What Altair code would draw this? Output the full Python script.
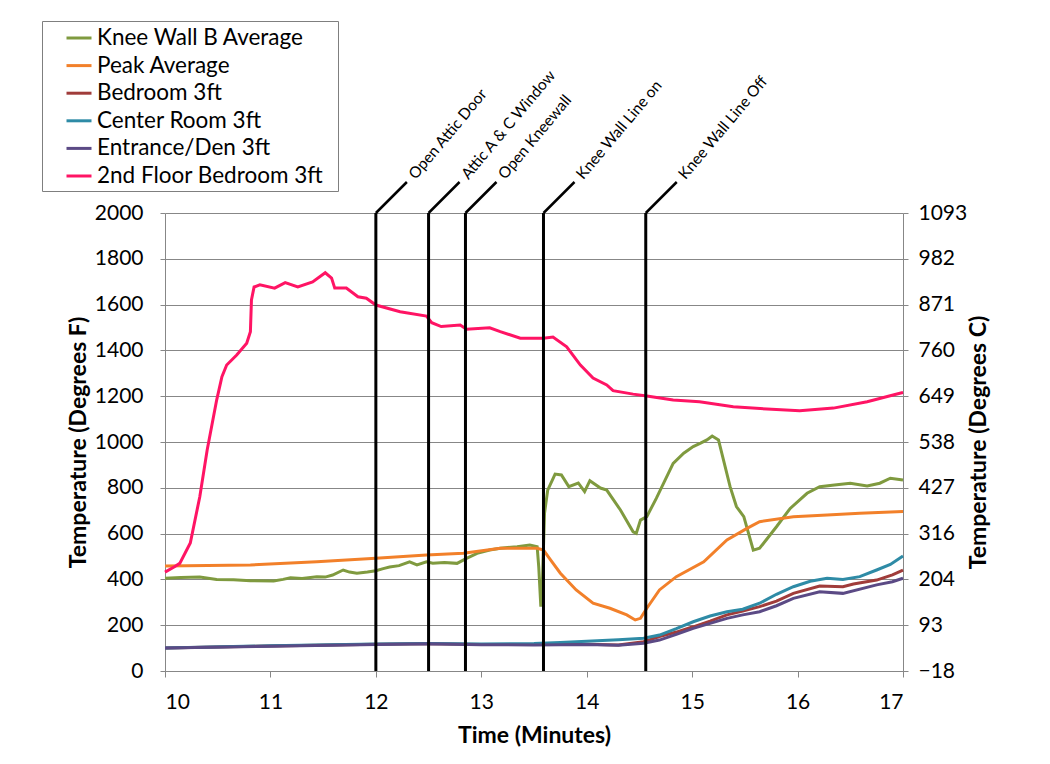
import altair as alt
import pandas as pd

# ---------------- data ----------------
series_names = ["Knee Wall B Average", "Peak Average", "Bedroom 3ft",
                "Center Room 3ft", "Entrance/Den 3ft", "2nd Floor Bedroom 3ft"]
series_colors = ["#7F9A3F", "#F2802A", "#A03C3A", "#2E8BA6", "#5B4A85", "#FF1464"]

knee_t = [10.0, 10.15, 10.33, 10.49, 10.65, 10.81, 11.03, 11.12, 11.19, 11.30, 11.44, 11.52,
          11.59, 11.69, 11.75, 11.82, 11.92, 12.0, 12.07, 12.13, 12.22, 12.32, 12.39, 12.48,
          12.54, 12.65, 12.77, 12.86, 12.96, 13.08, 13.18, 13.34, 13.46, 13.53, 13.545,
          13.565, 13.58, 13.60, 13.63, 13.70, 13.76, 13.83, 13.92, 13.98, 14.03, 14.13, 14.19,
          14.32, 14.44, 14.47, 14.51, 14.57, 14.66, 14.82, 14.92, 15.01, 15.08, 15.14, 15.19,
          15.25, 15.36, 15.42, 15.49, 15.58, 15.64, 15.80, 15.93, 16.09, 16.21, 16.35, 16.50,
          16.66, 16.78, 16.88, 17.0]
knee_f = [405, 408, 410, 400, 398, 394, 393, 400, 407, 404, 412, 410,
          419, 441, 432, 427, 432, 438, 447, 454, 460, 477, 463, 477,
          471, 474, 470, 492, 514, 528, 536, 543, 550, 543, 455,
          281, 397, 690, 790, 860, 856, 805, 821, 783, 831, 799, 790,
          703, 608, 601, 659, 674, 754, 907, 951, 980, 995, 1009, 1026,
          1009, 805, 718, 674, 528, 536, 630, 710, 776, 805, 812, 820,
          808, 820, 842, 834]

peak_t = [10.0, 10.81, 11.44, 12.0, 12.48, 12.83, 13.18, 13.53, 13.59, 13.65, 13.75, 13.90,
          14.06, 14.22, 14.38, 14.46, 14.51, 14.57, 14.69, 14.85, 15.11, 15.33, 15.52, 15.64,
          15.96, 16.28, 16.59, 17.0]
peak_f = [459, 463, 477, 492, 507, 514, 536, 536, 528, 490, 427, 354,
          296, 274, 245, 223, 230, 274, 354, 412, 477, 572, 623, 652,
          674, 681, 689, 696]

bed_t = [10.0, 11.0, 12.0, 12.5, 13.0, 13.5, 14.0, 14.3, 14.54, 14.69, 14.85, 15.01,
         15.17, 15.33, 15.48, 15.64, 15.80, 15.96, 16.21, 16.43, 16.53, 16.75, 16.9, 17.0]
bed_f = [100, 109, 117, 119, 116, 116, 117, 114, 128, 150, 170, 193,
         218, 245, 262, 281, 305, 339, 371, 368, 380, 397, 420, 441]

center_t = [10.0, 11.0, 12.0, 12.5, 13.0, 13.5, 13.75, 14.0, 14.3, 14.54, 14.69, 14.85,
            15.01, 15.17, 15.33, 15.48, 15.64, 15.80, 15.96, 16.12, 16.28, 16.43, 16.59,
            16.75, 16.88, 17.0]
center_f = [100, 110, 118, 120, 118, 120, 124, 130, 136, 143, 157, 185,
            215, 240, 259, 270, 296, 335, 368, 392, 405, 400, 412,
            441, 465, 502]

den_t = [10.0, 11.0, 12.0, 12.5, 13.0, 13.5, 14.0, 14.3, 14.54, 14.69, 14.85, 15.01,
         15.17, 15.33, 15.48, 15.64, 15.80, 15.96, 16.21, 16.43, 16.75, 16.9, 17.0]
den_f = [100, 108, 116, 119, 115, 114, 116, 112, 121, 135, 160, 186,
         208, 230, 245, 259, 285, 317, 346, 339, 376, 390, 405]

bed2_t = [10.0, 10.09, 10.14, 10.24, 10.33, 10.40, 10.49, 10.54, 10.585, 10.68, 10.775, 10.81,
          10.82, 10.845, 10.90, 11.04, 11.14, 11.26, 11.40, 11.52, 11.58, 11.61, 11.72, 11.83,
          11.91, 12.0, 12.23, 12.48, 12.53, 12.62, 12.80, 12.86, 13.08, 13.18, 13.37, 13.59,
          13.68, 13.81, 13.94, 14.06, 14.19, 14.25, 14.44, 14.57, 14.82, 15.07, 15.39, 15.71,
          16.02, 16.34, 16.66, 16.97, 17.0]
bed2_f = [432, 455, 470, 559, 761, 965, 1183, 1285, 1336, 1380, 1431, 1482,
          1620, 1677, 1686, 1672, 1696, 1677, 1699, 1739, 1716, 1672, 1672, 1634,
          1628, 1598, 1569, 1550, 1521, 1504, 1511, 1492, 1499, 1482, 1453, 1453,
          1458, 1416, 1336, 1279, 1249, 1224, 1209, 1201, 1183, 1176, 1154, 1144,
          1137, 1148, 1176, 1213, 1216]

event_times = [12.0, 12.5, 12.85, 13.59, 14.56]
event_labels = ["Open Attic Door", "Attic A & C Window", "Open Kneewall",
                "Knee Wall Line on", "Knee Wall Line Off"]

f_ticks = list(range(0, 2001, 200))
x_ticks = list(range(10, 18))

# ---------------- tables ----------------
rows = []
for name, ts, fs in zip(series_names,
                        [knee_t, peak_t, bed_t, center_t, den_t, bed2_t],
                        [knee_f, peak_f, bed_f, center_f, den_f, bed2_f]):
    for t, f in zip(ts, fs):
        rows.append({"t": t, "F": f, "series": name})
df = pd.DataFrame(rows)
ev = pd.DataFrame({"t": event_times, "label": event_labels})

FONT = "Lato"
xscale = alt.Scale(domain=[10, 17], nice=False)
yscale = alt.Scale(domain=[0, 2000], nice=False)

lines = alt.Chart(df).mark_line(strokeWidth=3).encode(
    x=alt.X("t:Q", scale=xscale,
            axis=alt.Axis(values=x_ticks, format="d", title="Time (Minutes)", grid=False,
                          labelPadding=14, titlePadding=12, tickSize=6)),
    y=alt.Y("F:Q", scale=yscale,
            axis=alt.Axis(values=f_ticks, format="d", title="Temperature (Degrees F)", grid=True,
                          labelPadding=17, titlePadding=4, tickSize=5)),
    color=alt.Color("series:N",
                    scale=alt.Scale(domain=series_names, range=series_colors),
                    legend=alt.Legend(orient="none", legendX=-123, legendY=-192,
                                      title="\u00a0\u00a0", titleOrient="right", titlePadding=12,
                                      titleFontSize=14,
                                      symbolType="stroke", symbolSize=625, symbolStrokeWidth=3,
                                      labelFont=FONT, labelFontSize=22.5, labelColor="black",
                                      labelLimit=400,
                                      strokeColor="#7f7f7f", fillColor="white",
                                      padding=3, rowPadding=1.6, symbolOffset=20, labelOffset=4)),
    order=alt.Order("t:Q"),
)

rules = alt.Chart(ev).mark_rule(color="black", strokeWidth=3).encode(
    x="t:Q", y=alt.datum(0), y2=alt.datum(2000)
)
kinks = alt.Chart(ev).mark_rule(color="black", strokeWidth=2.5, x2Offset=31, y2Offset=-31).encode(
    x="t:Q", x2="t:Q", y=alt.datum(2000), y2=alt.datum(2000)
)
labels = alt.Chart(ev).mark_text(angle=310, align="left", baseline="middle", xOffset=36,
                                 yOffset=-36, font=FONT, fontSize=15.5, color="black").encode(
    x="t:Q", y=alt.datum(2000), text="label:N"
)

left = alt.layer(lines, rules, kinks, labels)

right = alt.Chart(df).mark_line(opacity=0).encode(
    x=alt.X("t:Q", scale=xscale),
    y=alt.Y("F:Q", scale=yscale,
            axis=alt.Axis(orient="right", values=f_ticks,
                          labelExpr="format((datum.value - 32) * 5 / 9, '.0f')",
                          title="Temperature (Degrees C)", titleAngle=270, grid=False,
                          labelPadding=10, titlePadding=24, tickSize=5)),
)

chart = alt.layer(left, right).resolve_scale(y="independent").properties(
    width=738, height=458,
    autosize=alt.AutoSizeParams(type="none"),
    padding={"left": 157, "top": 205, "right": 125, "bottom": 85},
    background="white",
).configure_view(stroke=None).configure_axis(
    labelFont=FONT, labelFontSize=21, labelColor="black",
    titleFont=FONT, titleFontSize=23, titleFontWeight="bold", titleColor="black",
    domainColor="#878787", tickColor="#878787", gridColor="#878787",
)

chart.save("out.html", embed_options={"renderer": "svg", "actions": False})
